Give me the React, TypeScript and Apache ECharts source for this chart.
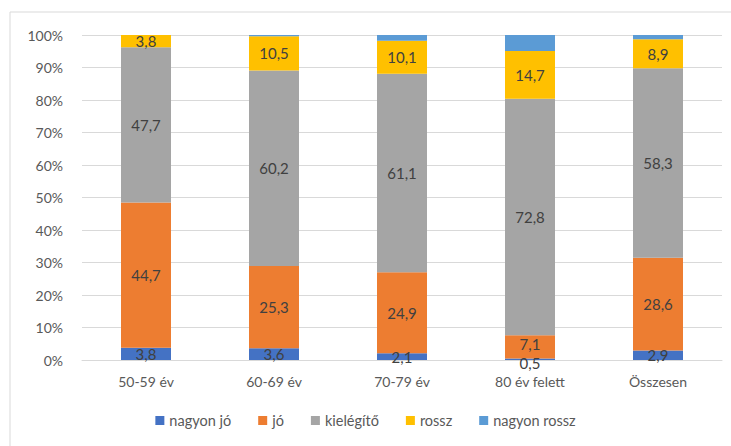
import React, { useEffect, useRef } from "react";
import * as echarts from "echarts";

const categories = ["50-59 év", "60-69 év", "70-79 év", "80 év felett", "Összesen"];
const nagyonJo = [3.8, 3.6, 2.1, 0.5, 2.9];
const jo = [44.7, 25.3, 24.9, 7.1, 28.6];
const kielegito = [47.7, 60.2, 61.1, 72.8, 58.3];
const rossz = [3.8, 10.5, 10.1, 14.7, 8.9];
const nagyonRossz = [0.0, 0.4, 1.8, 4.9, 1.3];
const seriesNames = ["nagyon jó", "jó", "kielégítő", "rossz", "nagyon rossz"];
const colors = ["#4472C4", "#ED7D31", "#A5A5A5", "#FFC000", "#5B9BD5"];

export default function App() {
  const ref = useRef<HTMLDivElement>(null);
  useEffect(() => {
    if (!ref.current) return;
    const chart = echarts.init(ref.current, null, { renderer: "svg" });
    const data = [nagyonJo, jo, kielegito, rossz, nagyonRossz];
    const font = "Lato, 'Open Sans', sans-serif";
    const fmt = (v: number) => (String(v).includes(".") ? String(v).replace(".", ",") : v + ",0");
    chart.setOption({
      animation: false,
      color: colors,
      textStyle: { fontFamily: font },
      grid: { left: 82, right: 9, top: 35, bottom: 86 },
      legend: {
        bottom: 13,
        left: "center",
        itemWidth: 9,
        itemHeight: 9,
        itemGap: 27,
        icon: "rect",
        textStyle: { color: "#595959", fontSize: 14.5, fontFamily: font },
        data: seriesNames,
      },
      xAxis: {
        type: "category",
        data: categories,
        axisLine: { lineStyle: { color: "#d9d9d9" } },
        axisTick: { show: false },
        axisLabel: { color: "#595959", fontSize: 14, margin: 14, fontFamily: font },
      },
      yAxis: {
        type: "value",
        min: 0,
        max: 100,
        interval: 10,
        axisLine: { show: false },
        axisTick: { show: false },
        splitLine: { lineStyle: { color: "#d9d9d9" } },
        axisLabel: { color: "#595959", fontSize: 14, margin: 19, formatter: "{value}%", fontFamily: font },
      },
      graphic: [
        { type: "line", shape: { x1: 10, y1: 12, x2: 731, y2: 12 }, style: { stroke: "#d9d9d9", lineWidth: 1 } },
        { type: "line", shape: { x1: 10, y1: 12, x2: 10, y2: 446 }, style: { stroke: "#d9d9d9", lineWidth: 1 } },
      ],
      series: seriesNames.map((name, i) => ({
        name,
        type: "bar",
        stack: "total",
        barWidth: 50,
        data: data[i].map((v, j) => {
          if (j === 3 && i === 0) return { value: v, label: { offset: [0, 4] } };
          if (j === 3 && i === 1) return { value: v, label: { offset: [0, -3] } };
          return v;
        }),
        label: {
          show: i < 4,
          position: "inside",
          color: "#404040",
          fontSize: 15,
          fontFamily: font,
          formatter: (p: any) => fmt(p.value),
        },
      })),
    });
    return () => chart.dispose();
  }, []);
  return <div ref={ref} style={{ position: "fixed", left: 0, top: 0, width: 731, height: 446, background: "#fff" }} />;
}
